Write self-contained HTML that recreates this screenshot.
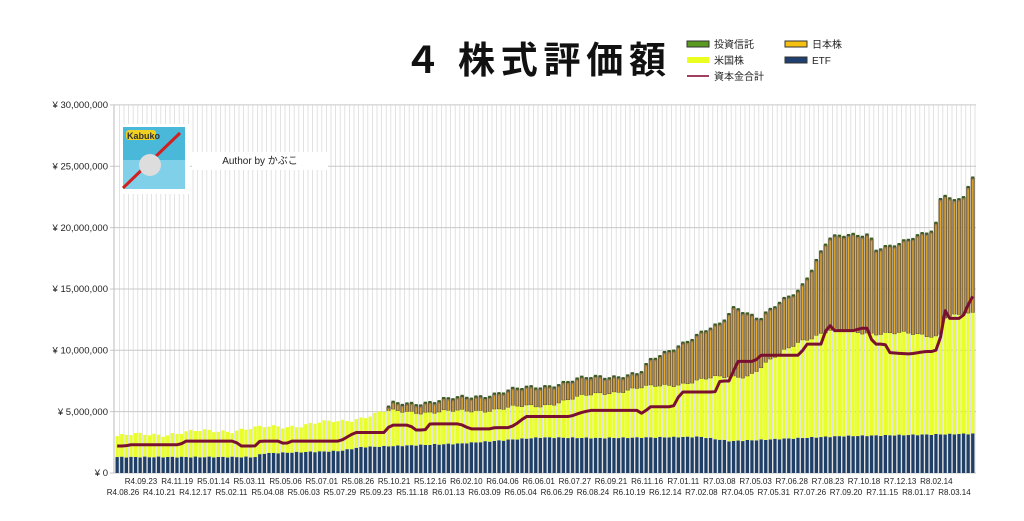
<!DOCTYPE html>
<html><head><meta charset="utf-8">
<style>
body{margin:0;background:#fff;width:1024px;height:516px;overflow:hidden;font-family:"Liberation Sans","Noto Sans CJK JP",sans-serif;}
</style></head><body>
<svg id="s" width="1024" height="516" xmlns="http://www.w3.org/2000/svg" font-family="Liberation Sans, Noto Sans CJK JP, sans-serif">
<rect width="1024" height="516" fill="#fff"/>
<g id="grid"></g>
<g id="bars"></g>
<polyline id="cap" fill="none" stroke="#7a1030" stroke-width="3" stroke-linejoin="round"/>
<g font-size="9.5" fill="#222" text-anchor="end">
<text x="108" y="108">¥ 30,000,000</text>
<text x="108" y="169.5">¥ 25,000,000</text>
<text x="108" y="231">¥ 20,000,000</text>
<text x="108" y="292">¥ 15,000,000</text>
<text x="108" y="353.5">¥ 10,000,000</text>
<text x="108" y="415">¥ 5,000,000</text>
<text x="108" y="476">¥ 0</text>
</g>
<g id="xl" font-size="8" fill="#222" text-anchor="middle"></g>
<text x="404" y="73" font-size="37" font-weight="bold" fill="#111" font-family="Liberation Sans, Noto Sans CJK JP, sans-serif">４</text>
<text x="458" y="73" font-size="37" font-weight="bold" fill="#111" font-family="Liberation Sans, Noto Sans CJK JP, sans-serif" textLength="208">株式評価額</text>
<g font-size="10" fill="#222">
<rect x="687" y="41" width="22" height="6" fill="#5a9a20" stroke="#333"/><text x="714" y="48">投資信託</text>
<rect x="785" y="41" width="22" height="6" fill="#f5c010" stroke="#333"/><text x="812" y="48">日本株</text>
<rect x="687" y="57" width="22" height="6" fill="#eaff20"/><text x="714" y="64">米国株</text>
<rect x="785" y="57" width="22" height="6" fill="#1f3f70" stroke="#333"/><text x="812" y="64">ETF</text>
<line x1="687" y1="76" x2="709" y2="76" stroke="#a04060" stroke-width="2"/><text x="714" y="80">資本金合計</text>
</g>
<rect x="120" y="124" width="70" height="70" fill="#fff"/>
<rect x="123" y="127" width="62" height="62" fill="#4ab8d8"/>
<rect x="123" y="160" width="62" height="29" fill="#7fd0e8"/>
<line x1="123" y1="188" x2="180" y2="133" stroke="#d02020" stroke-width="3"/>
<circle cx="150" cy="165" r="11" fill="#ddd"/>
<rect x="126" y="130" width="30" height="10" fill="#f0d020" rx="3"/>
<text x="127" y="139" font-size="9" font-weight="bold" fill="#333">Kabuko</text>
<rect x="192" y="152" width="136" height="18" fill="#fff"/>
<text x="260" y="164" font-size="10" text-anchor="middle" fill="#222">Author by かぶこ</text>
</svg>
<script>
var N=187,x0=115.5,p=4.6,bw=3.3;
function Y(v){return 473-v*12.27;}
function interp(k,x){for(var i=0;i<k.length-1;i++){if(x<=k[i+1][0]){var a=k[i],b=k[i+1];return a[1]+(b[1]-a[1])*(x-a[0])/(b[0]-a[0]);}}return k[k.length-1][1];}
var tot=[[116,3.0],[250,3.6],[340,4.2],[385,5.0],[392,5.5],[460,6.0],[540,7.0],[600,7.8],[640,8.0],[650,9.0],[680,10.5],[720,12.0],[735,13.6],[760,12.5],[800,15.0],[828,19.0],[870,19.5],[875,18.3],[900,18.5],[935,20.0],[942,23.0],[955,22.0],[965,22.5],[972,23.8]];
var us=[[116,3.0],[250,3.6],[340,4.2],[385,5.0],[460,5.0],[540,5.5],[600,6.5],[680,7.3],[720,7.8],[750,8.0],[800,10.8],[830,11.6],[940,11.2],[945,12.8],[972,12.9]];
var etf=[[116,1.3],[255,1.3],[262,1.6],[340,1.8],[360,2.1],[460,2.4],[540,2.9],[600,2.85],[700,2.95],[730,2.6],[760,2.7],[840,3.0],[972,3.2]];
var cap=[[116,2.2],[125,2.2],[130,2.3],[180,2.3],[185,2.6],[235,2.6],[240,2.2],[255,2.2],[260,2.6],[280,2.6],[285,2.3],[290,2.6],[340,2.6],[355,3.3],[385,3.3],[390,3.9],[410,3.9],[415,3.5],[425,3.5],[430,4.0],[460,4.0],[470,3.6],[490,3.6],[495,3.7],[510,3.7],[520,4.2],[525,4.6],[570,4.6],[580,4.9],[590,5.1],[640,5.1],[642,4.8],[650,5.4],[672,5.4],[676,5.6],[680,6.6],[715,6.6],[720,7.5],[732,7.5],[735,9.1],[755,9.1],[760,9.6],[800,9.6],[806,10.5],[822,10.5],[828,12.3],[833,11.6],[855,11.6],[860,11.8],[868,11.8],[873,10.5],[885,10.5],[890,9.8],[910,9.7],[925,9.9],[935,9.9],[940,10.5],[943,13.7],[948,12.6],[962,12.6],[972,14.4]];
var g='',b='',pts=[];
for(var i=0;i<N;i++){var x=x0+i*p,c=x+bw/2;g+='<line x1="'+(x+bw+0.6)+'" y1="105" x2="'+(x+bw+0.6)+'" y2="473" stroke="#dadada" stroke-width="0.8"/>';
var n=Math.sin(i*1.7)*0.12+Math.sin(i*0.45)*0.15;
var T=interp(tot,c)+n,U=interp(us,c)+n*0.8,E=interp(etf,c)+Math.sin(i*2.3)*0.04;if(U>T)U=T;
b+='<rect x="'+x+'" y="'+Y(E)+'" width="'+bw+'" height="'+(E*12.27)+'" fill="#1f3f66"/>';
b+='<rect x="'+x+'" y="'+Y(U)+'" width="'+bw+'" height="'+((U-E)*12.27)+'" fill="#eaff2a"/>';
if(T-U>0.15){b+='<rect x="'+x+'" y="'+Y(T)+'" width="'+bw+'" height="'+((T-U)*12.27)+'" fill="#9a7d48" stroke="#5a4a30" stroke-width="0.6"/>';
b+='<line x1="'+c+'" y1="'+(Y(T)+2)+'" x2="'+c+'" y2="'+Y(U)+'" stroke="#f0b020" stroke-width="0.9"/>';
b+='<rect x="'+x+'" y="'+(Y(T)-1.5)+'" width="'+bw+'" height="2" fill="#3a5a20"/>';}
pts.push(c+','+Y(interp(cap,c)));}
[0,5,10,15,20,25,30].forEach(function(v){g+='<line x1="110" y1="'+Y(v)+'" x2="976" y2="'+Y(v)+'" stroke="#c8c8c8" stroke-width="1"/>';});
g+='<line x1="114" y1="105" x2="114" y2="473" stroke="#bbb"/>';
document.getElementById('grid').innerHTML=g;document.getElementById('bars').innerHTML=b;
document.getElementById('cap').setAttribute('points',pts.join(' '));
var r1="R4.09.23 R4.11.19 R5.01.14 R5.03.11 R5.05.06 R5.07.01 R5.08.26 R5.10.21 R5.12.16 R6.02.10 R6.04.06 R6.06.01 R6.07.27 R6.09.21 R6.11.16 R7.01.11 R7.03.08 R7.05.03 R7.06.28 R7.08.23 R7.10.18 R7.12.13 R8.02.14".split(' ');
var r2="R4.08.26 R4.10.21 R4.12.17 R5.02.11 R5.04.08 R5.06.03 R5.07.29 R5.09.23 R5.11.18 R6.01.13 R6.03.09 R6.05.04 R6.06.29 R6.08.24 R6.10.19 R6.12.14 R7.02.08 R7.04.05 R7.05.31 R7.07.26 R7.09.20 R7.11.15 R8.01.17 R8.03.14".split(' ');
var t='',pp=36.15;
r2.forEach(function(s,k){t+='<text x="'+(123+k*pp)+'" y="495">'+s+'</text>';});
r1.forEach(function(s,k){t+='<text x="'+(141+k*pp)+'" y="484">'+s+'</text>';});
document.getElementById('xl').innerHTML=t;
</script>
</body></html>
